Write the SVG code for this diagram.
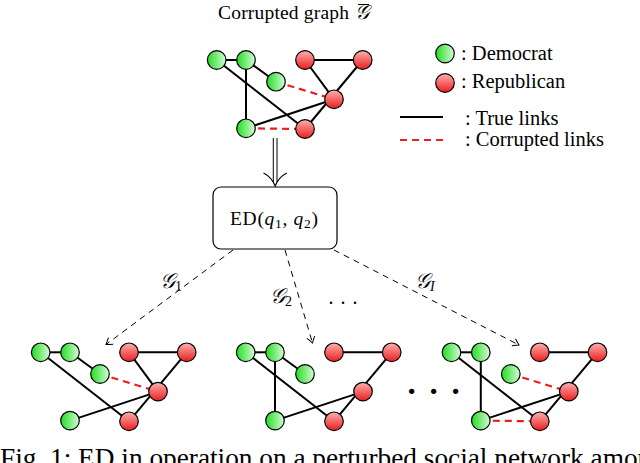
<svg xmlns="http://www.w3.org/2000/svg" xmlns:xlink="http://www.w3.org/1999/xlink" width="640" height="463" viewBox="0 0 640 463">
<defs>
<linearGradient id="gg" x1="0" y1="0" x2="1" y2="0"><stop offset="0" stop-color="#22dc22"/><stop offset="1" stop-color="#d6fbd6"/></linearGradient>
<linearGradient id="rg" x1="0" y1="0" x2="0" y2="1"><stop offset="0" stop-color="#ffb0b0"/><stop offset="1" stop-color="#e81e1e"/></linearGradient>
<circle id="dem" r="9.3" fill="url(#gg)" stroke="#000" stroke-width="1.2"/>
<circle id="rep" r="9.3" fill="url(#rg)" stroke="#000" stroke-width="1.2"/>
<marker id="ah" markerUnits="userSpaceOnUse" markerWidth="12" markerHeight="12" refX="0" refY="0" viewBox="-7 -6 8 12" orient="auto" overflow="visible">
<path d="M-6,-4 Q-1.8,-1 0,0 Q-1.8,1 -6,4" fill="none" stroke="#000" stroke-width="1"/>
</marker>
</defs>
<style>
.t{stroke:#000;stroke-width:2;fill:none}
.c{stroke:#ee1c1c;stroke-width:2.2;stroke-dasharray:7 5;fill:none}
.a{stroke:#000;stroke-width:1;stroke-dasharray:6 5;fill:none}
.txt{font-family:"Liberation Serif","Times New Roman",serif;fill:#000}
.math{font-family:"Liberation Serif","DejaVu Serif",serif;font-style:italic;fill:#000}
</style>
<rect width="640" height="463" fill="#fff"/>

<!-- Title -->
<g id="title">
<text class="txt" x="218" y="19" font-size="19.5" textLength="131" lengthAdjust="spacing">Corrupted graph</text>
<text class="math" x="355" y="19" font-size="20">𝒢</text>
<line x1="358" y1="4.5" x2="369" y2="4.5" stroke="#000" stroke-width="1"/>
</g>

<!-- Top graph -->
<g id="graph-top" transform="translate(216.7,60)">
<g id="top-links">
<line class="t" x1="0" y1="0" x2="29.3" y2="0"/>
<line class="t" x1="29.3" y1="0" x2="59.3" y2="21.7"/>
<line class="t" x1="0" y1="0" x2="88.3" y2="69"/>
<line class="t" x1="29.3" y1="0" x2="29.3" y2="68.3"/>
<line class="t" x1="29.3" y1="68.3" x2="117.3" y2="39.3"/>
<line class="t" x1="88.3" y1="0" x2="146" y2="0"/>
<line class="t" x1="88.3" y1="0" x2="117.3" y2="39.3"/>
<line class="t" x1="146" y1="0" x2="88.3" y2="69"/>
<line class="c" x1="59.3" y1="21.7" x2="117.3" y2="39.3"/>
<line class="c" x1="29.3" y1="68.3" x2="88.3" y2="69"/>
</g>
<g id="top-g1"><use xlink:href="#dem" x="0" y="0"/></g>
<g id="top-g2"><use xlink:href="#dem" x="29.3" y="0"/></g>
<g id="top-g3"><use xlink:href="#dem" x="59.3" y="21.7"/></g>
<g id="top-g4"><use xlink:href="#dem" x="29.3" y="68.3"/></g>
<g id="top-r1"><use xlink:href="#rep" x="88.3" y="0"/></g>
<g id="top-r2"><use xlink:href="#rep" x="146" y="0"/></g>
<g id="top-r3"><use xlink:href="#rep" x="117.3" y="39.3"/></g>
<g id="top-r4"><use xlink:href="#rep" x="88.3" y="69"/></g>
</g>

<!-- Legend -->
<g id="legend">
<use xlink:href="#dem" x="445" y="53.5"/>
<text class="txt" x="461" y="60" font-size="20.5">: Democrat</text>
<use xlink:href="#rep" x="445" y="83"/>
<text class="txt" x="461" y="88" font-size="20.5">: Republican</text>
<line x1="400" y1="117" x2="443" y2="117" stroke="#000" stroke-width="2"/>
<text class="txt" x="465" y="125" font-size="20.5">: True links</text>
<line class="c" x1="400" y1="140" x2="443" y2="140"/>
<text class="txt" x="465" y="146" font-size="20.5">: Corrupted links</text>
</g>

<!-- ED box -->
<g id="ed-box">
<rect x="213" y="187" width="124" height="62" rx="8" ry="8" fill="#fff" stroke="#000" stroke-width="1.2"/>
<text class="txt" x="230" y="225" font-size="19.5" textLength="88" lengthAdjust="spacing">ED(<tspan font-style="italic">q</tspan><tspan font-size="13.5" dy="3">1</tspan><tspan dy="-3">, </tspan><tspan font-style="italic">q</tspan><tspan font-size="13.5" dy="3">2</tspan><tspan dy="-3">)</tspan></text>
</g>

<!-- Connectors -->
<g id="connectors">
<line x1="273.3" y1="138" x2="273.3" y2="182" stroke="#000" stroke-width="1"/>
<line x1="277" y1="138" x2="277" y2="182" stroke="#000" stroke-width="1"/>
<path d="M263.5,173 Q271.5,177 275.2,186 Q278.8,177 286.8,173" fill="none" stroke="#000" stroke-width="1.1"/>
<line class="a" x1="233" y1="250" x2="106" y2="344.5" marker-end="url(#ah)"/>
<line class="a" x1="285" y1="250" x2="312.5" y2="343" marker-end="url(#ah)"/>
<line class="a" x1="334" y1="250" x2="519" y2="345" marker-end="url(#ah)"/>
</g>

<!-- Connector labels -->
<text class="math" x="160" y="288" font-size="21">𝒢<tspan class="txt" font-style="normal" font-size="14" dy="3">1</tspan></text>
<text class="math" x="270" y="303" font-size="21">𝒢<tspan class="txt" font-style="normal" font-size="14" dy="3">2</tspan></text>
<text class="txt" x="328.5" y="304" font-size="20" letter-spacing="7">...</text>
<text class="math" x="415" y="288" font-size="21">𝒢<tspan font-size="14" dy="3">I</tspan></text>

<!-- Graph 1 -->
<g id="graph-1" transform="translate(40.7,352.3)">
<g id="g1-links">
<line class="t" x1="0" y1="0" x2="29.3" y2="0"/>
<line class="t" x1="29.3" y1="0" x2="59.3" y2="21.7"/>
<line class="t" x1="0" y1="0" x2="88.3" y2="69"/>
<line class="t" x1="29.3" y1="68.3" x2="117.3" y2="39.3"/>
<line class="t" x1="88.3" y1="0" x2="146" y2="0"/>
<line class="t" x1="88.3" y1="0" x2="117.3" y2="39.3"/>
<line class="t" x1="146" y1="0" x2="88.3" y2="69"/>
<line class="c" x1="59.3" y1="21.7" x2="117.3" y2="39.3"/>
</g>
<g id="g1-d1"><use xlink:href="#dem" x="0" y="0"/></g>
<g id="g1-d2"><use xlink:href="#dem" x="29.3" y="0"/></g>
<g id="g1-d3"><use xlink:href="#dem" x="59.3" y="21.7"/></g>
<g id="g1-d4"><use xlink:href="#dem" x="29.3" y="68.3"/></g>
<g id="g1-r1"><use xlink:href="#rep" x="88.3" y="0"/></g>
<g id="g1-r2"><use xlink:href="#rep" x="146" y="0"/></g>
<g id="g1-r3"><use xlink:href="#rep" x="117.3" y="39.3"/></g>
<g id="g1-r4"><use xlink:href="#rep" x="88.3" y="69"/></g>
</g>

<!-- Graph 2 -->
<g id="graph-2" transform="translate(245.7,352.3)">
<g id="g2-links">
<line class="t" x1="0" y1="0" x2="29.3" y2="0"/>
<line class="t" x1="29.3" y1="0" x2="59.3" y2="21.7"/>
<line class="t" x1="0" y1="0" x2="88.3" y2="69"/>
<line class="t" x1="29.3" y1="0" x2="29.3" y2="68.3"/>
<line class="t" x1="29.3" y1="68.3" x2="117.3" y2="39.3"/>
<line class="t" x1="88.3" y1="0" x2="146" y2="0"/>
<line class="t" x1="146" y1="0" x2="88.3" y2="69"/>
</g>
<g id="g2-d1"><use xlink:href="#dem" x="0" y="0"/></g>
<g id="g2-d2"><use xlink:href="#dem" x="29.3" y="0"/></g>
<g id="g2-d3"><use xlink:href="#dem" x="59.3" y="21.7"/></g>
<g id="g2-d4"><use xlink:href="#dem" x="29.3" y="68.3"/></g>
<g id="g2-r1"><use xlink:href="#rep" x="88.3" y="0"/></g>
<g id="g2-r2"><use xlink:href="#rep" x="146" y="0"/></g>
<g id="g2-r3"><use xlink:href="#rep" x="117.3" y="39.3"/></g>
<g id="g2-r4"><use xlink:href="#rep" x="88.3" y="69"/></g>
</g>

<!-- Big dots -->
<text class="txt" x="406" y="393.5" font-size="45" letter-spacing="10.75">...</text>

<!-- Graph 3 -->
<g id="graph-3" transform="translate(451.5,352.3)">
<g id="g3-links">
<line class="t" x1="0" y1="0" x2="29.3" y2="0"/>
<line class="t" x1="0" y1="0" x2="88.3" y2="69"/>
<line class="t" x1="29.3" y1="0" x2="29.3" y2="68.3"/>
<line class="t" x1="29.3" y1="68.3" x2="117.3" y2="39.3"/>
<line class="t" x1="88.3" y1="0" x2="146" y2="0"/>
<line class="t" x1="146" y1="0" x2="88.3" y2="69"/>
<line class="c" x1="59.3" y1="21.7" x2="117.3" y2="39.3"/>
<line class="c" x1="29.3" y1="68.3" x2="88.3" y2="69"/>
</g>
<g id="g3-d1"><use xlink:href="#dem" x="0" y="0"/></g>
<g id="g3-d2"><use xlink:href="#dem" x="29.3" y="0"/></g>
<g id="g3-d3"><use xlink:href="#dem" x="59.3" y="21.7"/></g>
<g id="g3-d4"><use xlink:href="#dem" x="29.3" y="68.3"/></g>
<g id="g3-r1"><use xlink:href="#rep" x="88.3" y="0"/></g>
<g id="g3-r2"><use xlink:href="#rep" x="146" y="0"/></g>
<g id="g3-r3"><use xlink:href="#rep" x="117.3" y="39.3"/></g>
<g id="g3-r4"><use xlink:href="#rep" x="88.3" y="69"/></g>
</g>

<!-- Caption -->
<text class="txt" x="0" y="467" font-size="27.3">Fig. 1: ED in operation on a perturbed social network among</text>
</svg>
